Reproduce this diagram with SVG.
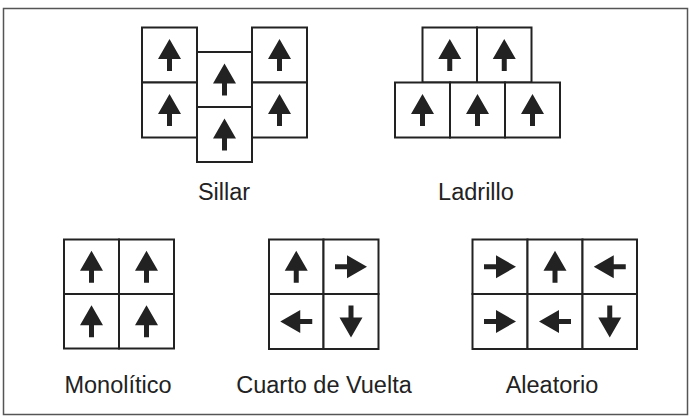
<svg xmlns="http://www.w3.org/2000/svg" xmlns:xlink="http://www.w3.org/1999/xlink" width="689" height="416" viewBox="0 0 689 416">
<style>
.cell{fill:#fff;stroke:#222;stroke-width:2}
.arr{fill:#222}
.lbl{font-family:"Liberation Sans",Arial,sans-serif;font-size:23.5px;fill:#222;text-anchor:middle}
</style>
<defs>
<path id="up" class="arr" d="M0,-16 L11.5,4 L2.5,4 L2.5,16 L-2.5,16 L-2.5,4 L-11.5,4 Z"/>
</defs>
<rect x="3.5" y="8.5" width="684" height="406" fill="#fff" stroke="#555" stroke-width="1.5"/>
<g id="sillar">
<rect class="cell" x="142" y="27.5" width="55" height="55"/>
<rect class="cell" x="142" y="82.5" width="55" height="55"/>
<rect class="cell" x="197" y="52" width="55" height="55"/>
<rect class="cell" x="197" y="107" width="55" height="55"/>
<rect class="cell" x="252" y="27.5" width="55" height="55"/>
<rect class="cell" x="252" y="82.5" width="55" height="55"/>
<use xlink:href="#up" x="169.5" y="55"/>
<use xlink:href="#up" x="169.5" y="110"/>
<use xlink:href="#up" x="224.5" y="79.5"/>
<use xlink:href="#up" x="224.5" y="134.5"/>
<use xlink:href="#up" x="279.5" y="55"/>
<use xlink:href="#up" x="279.5" y="110"/>
<text class="lbl" x="224" y="200">Sillar</text>
</g>
<g id="ladrillo">
<rect class="cell" x="422.5" y="27.5" width="54.5" height="55"/>
<rect class="cell" x="477" y="27.5" width="54.5" height="55"/>
<rect class="cell" x="395" y="82.5" width="55" height="55"/>
<rect class="cell" x="450" y="82.5" width="55" height="55"/>
<rect class="cell" x="505" y="82.5" width="55" height="55"/>
<use xlink:href="#up" x="449.75" y="55"/>
<use xlink:href="#up" x="504.25" y="55"/>
<use xlink:href="#up" x="422.5" y="110"/>
<use xlink:href="#up" x="477.5" y="110"/>
<use xlink:href="#up" x="532.5" y="110"/>
<text class="lbl" x="476" y="200">Ladrillo</text>
</g>
<g id="monolitico">
<rect class="cell" x="64" y="239.5" width="55" height="54.5"/>
<rect class="cell" x="119" y="239.5" width="55" height="54.5"/>
<rect class="cell" x="64" y="294" width="55" height="54.5"/>
<rect class="cell" x="119" y="294" width="55" height="54.5"/>
<use xlink:href="#up" x="91.5" y="266.75"/>
<use xlink:href="#up" x="146.5" y="266.75"/>
<use xlink:href="#up" x="91.5" y="321.25"/>
<use xlink:href="#up" x="146.5" y="321.25"/>
<text class="lbl" x="118" y="392.5">Monolítico</text>
</g>
<g id="cuarto">
<rect class="cell" x="269" y="239.5" width="54.5" height="54.5"/>
<rect class="cell" x="323.5" y="239.5" width="55" height="54.5"/>
<rect class="cell" x="269" y="294" width="54.5" height="55"/>
<rect class="cell" x="323.5" y="294" width="55" height="55"/>
<use xlink:href="#up" transform="translate(296.25,266.75)"/>
<use xlink:href="#up" transform="translate(351,266.75) rotate(90)"/>
<use xlink:href="#up" transform="translate(296.25,321.5) rotate(-90)"/>
<use xlink:href="#up" transform="translate(351,321.5) rotate(180)"/>
<text class="lbl" x="324" y="392.5">Cuarto de Vuelta</text>
</g>
<g id="aleatorio">
<rect class="cell" x="472.5" y="239.5" width="55" height="54.5"/>
<rect class="cell" x="527.5" y="239.5" width="55" height="54.5"/>
<rect class="cell" x="582.5" y="239.5" width="54.5" height="54.5"/>
<rect class="cell" x="472.5" y="294" width="55" height="55"/>
<rect class="cell" x="527.5" y="294" width="55" height="55"/>
<rect class="cell" x="582.5" y="294" width="54.5" height="55"/>
<use xlink:href="#up" transform="translate(500,266.75) rotate(90)"/>
<use xlink:href="#up" transform="translate(555,266.75)"/>
<use xlink:href="#up" transform="translate(609.75,266.75) rotate(-90)"/>
<use xlink:href="#up" transform="translate(500,321.5) rotate(90)"/>
<use xlink:href="#up" transform="translate(555,321.5) rotate(-90)"/>
<use xlink:href="#up" transform="translate(609.75,321.5) rotate(180)"/>
<text class="lbl" x="552" y="392.5">Aleatorio</text>
</g>
<g id="connectors"/>
</svg>
